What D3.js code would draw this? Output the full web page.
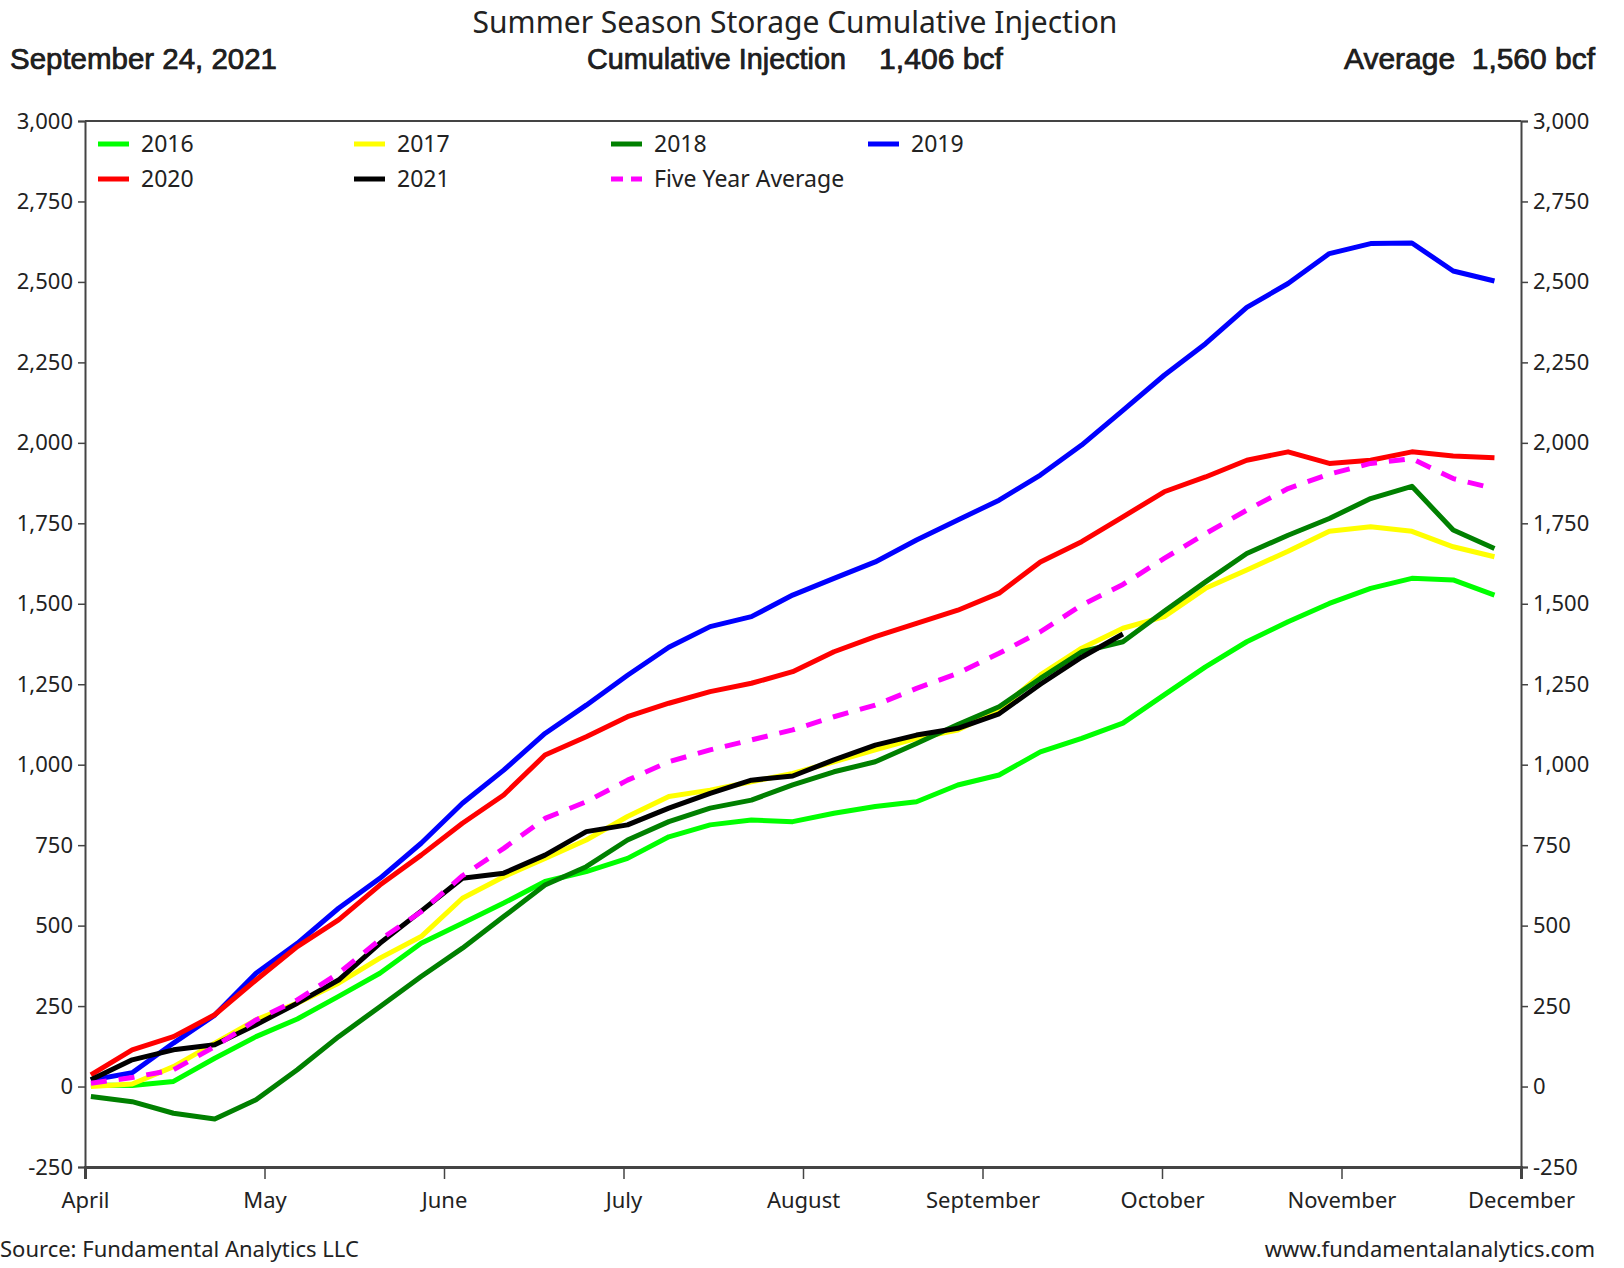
<!DOCTYPE html>
<html>
<head>
<meta charset="utf-8">
<script src="https://cdn.jsdelivr.net/npm/d3@7"></script>
<style>
  html, body { margin: 0; padding: 0; background: #fff; }
  svg { display: block; }
  text { font-family: "Noto Sans", "Open Sans", sans-serif; fill: #222; }
</style>
</head>
<body>
<svg id="chart" width="1624" height="1268"></svg>
<script>
// ---- data ----
const weekDays = [1, 8, 15, 22, 29, 36, 43, 50, 57, 64, 71, 78, 85, 92, 99, 106, 113, 120, 127, 134,
                  141, 148, 155, 162, 169, 176, 183, 190, 197, 204, 211, 218, 225, 232, 239];
const monthLabels = ["April", "May", "June", "July", "August", "September", "October", "November", "December"];
const yTicks = [-250, 0, 250, 500, 750, 1000, 1250, 1500, 1750, 2000, 2250, 2500, 2750, 3000];

const s2016 = [5, 3, 16, 88, 155, 210, 280, 352, 445, 507, 570, 637, 668, 709, 776, 813, 828, 823, 849, 870,
               885, 937, 968, 1040, 1082, 1129, 1217, 1304, 1382, 1444, 1501, 1548, 1579, 1574, 1527];
const s2017 = [0, 8, 62, 135, 207, 259, 321, 399, 466, 585, 652, 709, 766, 839, 901, 921, 947, 973, 1009, 1046,
               1082, 1108, 1170, 1279, 1362, 1424, 1460, 1548, 1605, 1663, 1725, 1739, 1725, 1677, 1646];
const s2018 = [-31, -47, -83, -101, -41, 52, 155, 248, 342, 430, 528, 626, 683, 766, 823, 865, 890, 937, 978, 1009,
               1066, 1125, 1180, 1268, 1351, 1382, 1477, 1568, 1656, 1713, 1765, 1827, 1865, 1729, 1672];
const s2019 = [20, 43, 135, 222, 352, 445, 554, 647, 756, 880, 983, 1097, 1185, 1278, 1365, 1429, 1460, 1527, 1579, 1630,
               1698, 1760, 1822, 1900, 1993, 2101, 2210, 2308, 2421, 2495, 2588, 2619, 2621, 2534, 2503];
const s2020 = [36, 114, 155, 223, 331, 435, 518, 626, 719, 818, 906, 1030, 1087, 1149, 1191, 1227, 1253, 1289, 1351, 1398,
               1439, 1480, 1533, 1630, 1693, 1770, 1848, 1894, 1946, 1972, 1936, 1946, 1972, 1959, 1954];
const s2021 = [21, 83, 114, 130, 192, 259, 331, 445, 545, 647, 663, 719, 792, 813, 865, 911, 952, 965, 1015, 1061,
               1092, 1113, 1158, 1250, 1334, 1406];
const sAvg  = [10, 28, 52, 124, 207, 269, 352, 456, 543, 655, 740, 833, 885, 952, 1009, 1046, 1077, 1108, 1149, 1185,
               1237, 1284, 1346, 1413, 1496, 1560, 1641, 1718, 1791, 1858, 1903, 1936, 1951, 1889, 1858];

const seriesNames  = ["2016", "2017", "2018", "2019", "2020", "2021", "Five Year Average"];
const seriesValues = [s2016, s2017, s2018, s2019, s2020, s2021, sAvg];
const seriesColors = ["#00ff00", "#ffff00", "#008000", "#0000ff", "#ff0000", "#000000", "#ff00ff"];

// ---- layout ----
const svg = d3.select("#chart");
const L = 85, R = 1521, T = 121, B = 1167;
const spanDays = 243.5;

const x = d3.scaleLinear().domain([0, spanDays]).range([L, R]);
const y = d3.scaleLinear().domain([-250, 3000]).range([B, T]);
const monthTickVals = monthLabels.map((m, i) => i * spanDays / 8);
const fmt = d => d3.format(",")(d).replace("\u2212", "-");

// titles
svg.append("text").attr("x", 795).attr("y", 33).attr("text-anchor", "middle")
  .style("font-size", "30px").text("Summer Season Storage Cumulative Injection");

const hdrFont = "'Liberation Sans', Arial, sans-serif";
function header(txt, xp, len, anchor) {
  svg.append("text").attr("x", xp).attr("y", 69)
    .attr("text-anchor", anchor || "start")
    .attr("textLength", len).attr("lengthAdjust", "spacingAndGlyphs")
    .attr("xml:space", "preserve").style("white-space", "pre")
    .style("font-family", hdrFont).style("font-size", "29px")
    .attr("stroke", "#111").attr("stroke-width", 0.7)
    .attr("fill", "#111")
    .text(txt);
}
header("September 24, 2021", 10, 267);
header("Cumulative Injection", 587, 259);
header("1,406 bcf", 879, 124);
header("Average  1,560 bcf", 1595, 251, "end");

// axes
const axisColor = "#444";
const yLeft = d3.axisLeft(y).tickValues(yTicks).tickFormat(fmt).tickSize(7).tickPadding(5);
const yRight = d3.axisRight(y).tickValues(yTicks).tickFormat(fmt).tickSize(7).tickPadding(5);
const xAxis = d3.axisBottom(x).tickValues(monthTickVals).tickFormat((d, i) => monthLabels[i]).tickSize(12).tickPadding(13);

function styleAxis(g) {
  g.select(".domain").attr("stroke", axisColor).attr("stroke-width", 2);
  g.selectAll(".tick line").attr("stroke", axisColor).attr("stroke-width", 1.5);
  g.selectAll(".tick text").style("font-family", "'Noto Sans', sans-serif").style("font-size", "22px").attr("fill", "#222");
}
svg.append("g").attr("transform", `translate(${L},0)`).call(yLeft).call(styleAxis);
svg.append("g").attr("transform", `translate(${R},0)`).call(yRight).call(styleAxis);
const gx = svg.append("g").attr("transform", `translate(0,${B})`).call(xAxis).call(styleAxis);
gx.select(".domain").attr("stroke-width", 3);
// top frame line
svg.append("line").attr("x1", L).attr("x2", R).attr("y1", T).attr("y2", T)
  .attr("stroke", axisColor).attr("stroke-width", 2);

// lines
const line = d3.line().x((d, i) => x(weekDays[i])).y(d => y(d));
const plot = svg.append("g");
seriesValues.forEach((vals, k) => {
  plot.append("path").datum(vals)
    .attr("d", line)
    .attr("fill", "none")
    .attr("stroke", seriesColors[k])
    .attr("stroke-width", 5)
    .attr("stroke-linejoin", "round")
    .attr("stroke-dasharray", k === 6 ? "16,12" : null);
});

// legend
const legCols = [98, 354, 611, 868];
const legRows = [144, 179];
seriesNames.forEach((name, k) => {
  const cx = legCols[k % 4], cy = legRows[Math.floor(k / 4)];
  svg.append("line").attr("x1", cx).attr("x2", cx + 31).attr("y1", cy).attr("y2", cy)
    .attr("stroke", seriesColors[k]).attr("stroke-width", 5)
    .attr("stroke-dasharray", k === 6 ? "12,8" : null);
  svg.append("text").attr("x", cx + 43).attr("y", cy).attr("dy", "0.35em")
    .style("font-size", "23px").text(name);
});

// footer
svg.append("text").attr("x", 0).attr("y", 1257).style("font-size", "22px").text("Source: Fundamental Analytics LLC");
svg.append("text").attr("x", 1595).attr("y", 1257).attr("text-anchor", "end").style("font-size", "22px")
  .text("www.fundamentalanalytics.com");
</script>
</body>
</html>
